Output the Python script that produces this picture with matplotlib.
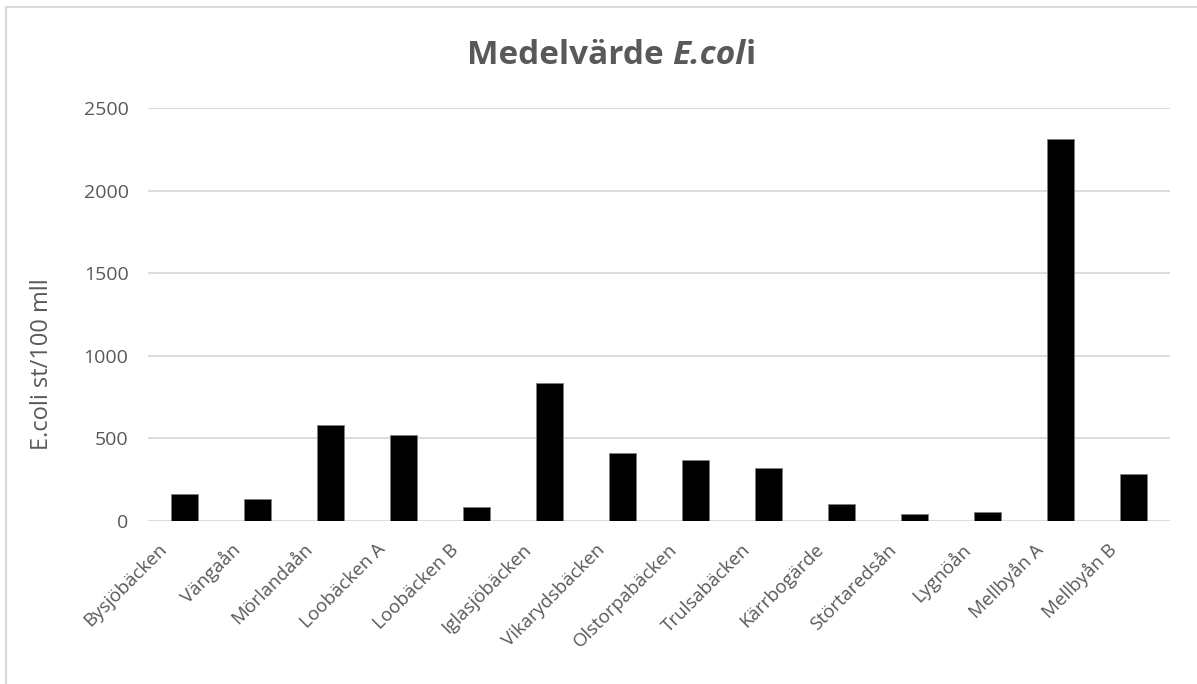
import matplotlib
matplotlib.use("Agg")
from matplotlib import pyplot as plt
from matplotlib.lines import Line2D
from matplotlib.transforms import ScaledTranslation
import numpy as np

plt.rcParams['font.family'] = ['Open Sans', 'DejaVu Sans']

stations = ['Bysjöbäcken', 'Vängaån', 'Mörlandaån', 'Loobäcken A', 'Loobäcken B',
            'Iglasjöbäcken', 'Vikarydsbäcken', 'Olstorpabäcken', 'Trulsabäcken',
            'Kärrbogärde', 'Störtaredsån', 'Lygnöån', 'Mellbyån A', 'Mellbyån B']
ecoli_mean = [165, 135, 582, 518, 87, 835, 409, 367, 319, 103, 44, 56, 2312, 286]
yticks = [0, 500, 1000, 1500, 2000, 2500]

grey = '#595959'

fig = plt.figure(figsize=(11.97, 6.84), dpi=100)
ax = fig.add_axes([148 / 1197, 1 - 521 / 684, 1022 / 1197, 413 / 684])

x = np.arange(len(stations))
ax.bar(x, ecoli_mean, width=0.37, color='black', edgecolor='#7f7f7f', linewidth=0.6, zorder=3)

ax.set_xlim(-0.5, len(stations) - 0.5)
ax.set_ylim(0, 2500)
ax.set_yticks(yticks)
ax.set_yticklabels([str(v) for v in yticks], fontsize=14, color=grey)
ax.set_xticks(x)
ax.set_xticklabels(stations, rotation=45, ha='right', rotation_mode='anchor',
                   fontsize=13.5, color=grey)
ax.tick_params(axis='both', length=0)
ax.tick_params(axis='y', pad=14)
ax.tick_params(axis='x', pad=14)
# shift rotated labels left so their ends sit left of the bars, like the original
for lbl in ax.get_xticklabels():
    lbl.set_transform(lbl.get_transform() + ScaledTranslation(-0.27, 0, fig.dpi_scale_trans))
ax.grid(axis='y', color='#d9d9d9', linewidth=1.3, zorder=0)
for s in ax.spines.values():
    s.set_visible(False)

ax.set_ylabel('E.coli st/100 mll', fontsize=17, color=grey)
ax.yaxis.set_label_coords(-0.092, 0.38)

# title: "Medelvärde " bold, "E.col" bold italic, "i" bold
t1 = fig.text(467 / 1197, 1 - 64 / 684, 'Medelvärde ', fontsize=24, fontweight='bold',
              color=grey, va='baseline', ha='left')
t2 = ax.annotate('E.col', xy=(1, 0), xycoords=t1, fontsize=24, fontweight='bold',
                 style='italic', color=grey, va='bottom', ha='left',
                 annotation_clip=False)
t3 = ax.annotate('i', xy=(1, 0), xycoords=t2, fontsize=24, fontweight='bold',
                 color=grey, va='bottom', ha='left', annotation_clip=False)

# chart frame (top and left edges visible)
fig.add_artist(Line2D([6 / 1197, 1196 / 1197], [1 - 7 / 684, 1 - 7 / 684],
                      transform=fig.transFigure, color='#d9d9d9', linewidth=1.5))
fig.add_artist(Line2D([6 / 1197, 6 / 1197], [0, 1 - 7 / 684],
                      transform=fig.transFigure, color='#d9d9d9', linewidth=1.5))

fig.savefig('out.png', dpi=100)
